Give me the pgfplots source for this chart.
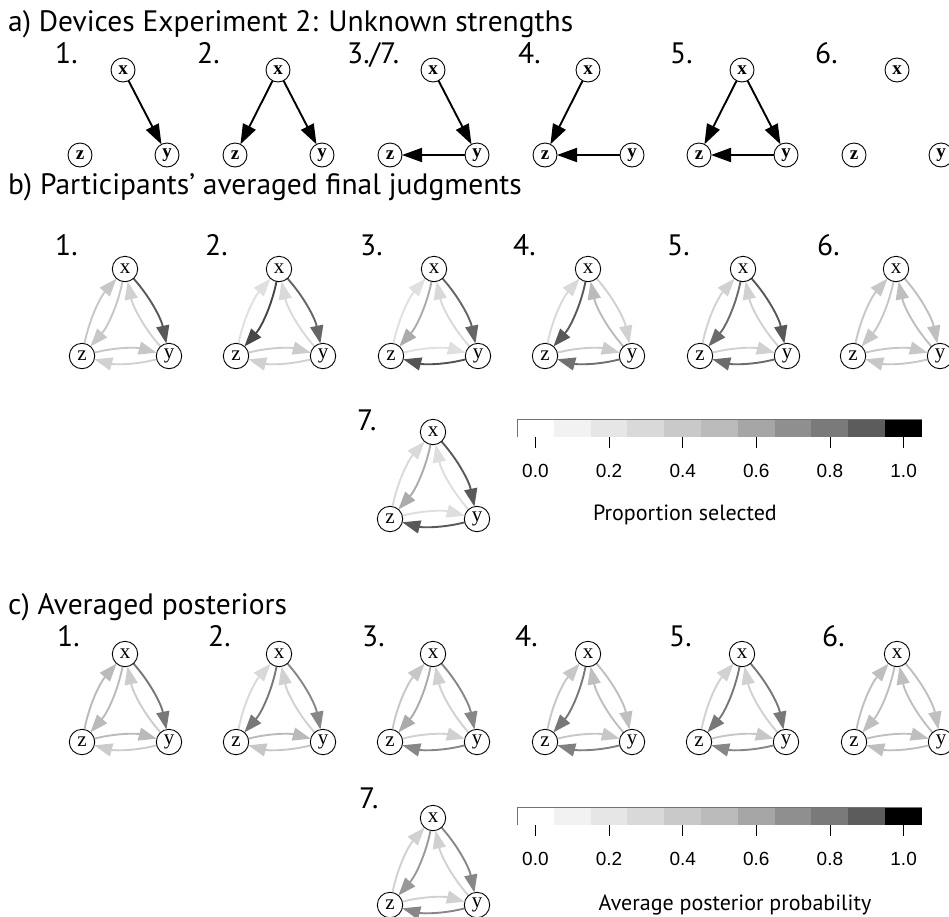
\documentclass[border=0pt]{standalone}
\usepackage{fontspec}
\usepackage{pgfplots}
\pgfplotsset{compat=1.18}
\usetikzlibrary{arrows.meta}
\newfontfamily\headfont{PT Sans}
\newfontfamily\tickfont{Liberation Sans}
\newfontfamily\nodefont{Liberation Serif}

\definecolor{cb0}{HTML}{FFFFFF}
\definecolor{cb1}{HTML}{F2F2F2}
\definecolor{cb2}{HTML}{E6E6E6}
\definecolor{cb3}{HTML}{D9D9D9}
\definecolor{cb4}{HTML}{C9C9C9}
\definecolor{cb5}{HTML}{BABABA}
\definecolor{cb6}{HTML}{A6A6A6}
\definecolor{cb7}{HTML}{8F8F8F}
\definecolor{cb8}{HTML}{7A7A7A}
\definecolor{cb9}{HTML}{5C5C5C}
\definecolor{cb10}{HTML}{000000}

\tikzset{
  redge/.style={line width=1.9pt, -{Triangle[length=18pt,width=13pt]}, shorten <=12.7pt, shorten >=12.7pt},
  aedge/.style={line width=1.9pt, black, -{Triangle[length=20pt,width=14pt]}, shorten <=12pt, shorten >=12pt},
  head/.style={anchor=base west, inner sep=0pt, font=\headfont\fontsize{29.5}{33}\selectfont},
  ticklab/.style={anchor=base, inner sep=0pt, font=\tickfont\fontsize{19}{19}\selectfont},
  keylab/.style={anchor=base, inner sep=0pt, font=\headfont\fontsize{22}{22}\selectfont},
}
\pgfplotsset{
  netnode/.style={only marks, mark=*, mark size=12.7pt,
    mark options={fill=white, draw=black, line width=0.9pt},
    point meta=explicit symbolic, nodes near coords,
    every node near coord/.append style={anchor=center, inner sep=0pt, black,
      font=\nodefont\fontsize{21}{21}\selectfont}},
  anode/.style={only marks, mark=*, mark size=12pt,
    mark options={fill=white, draw=black, line width=0.9pt},
    point meta=explicit symbolic, nodes near coords,
    every node near coord/.append style={anchor=center, inner sep=0pt, black,
      font=\nodefont\bfseries\fontsize{19}{19}\selectfont}},
}

% one network: #1 x of node x, #2 row of x, #3 row of z and y,
% then grey (percent black) of x->y, y->x, x->z, z->x, z->y, y->z
\newcommand{\net}[9]{%
  \pgfmathsetmacro\zx{#1-43}%
  \pgfmathsetmacro\yx{#1+44}%
  \edef\temp{%
    \noexpand\draw[redge, black!#4] (axis cs:#1,#2) to[bend left=15] (axis cs:\yx,#3);
    \noexpand\draw[redge, black!#5] (axis cs:\yx,#3) to[bend left=15] (axis cs:#1,#2);
    \noexpand\draw[redge, black!#6] (axis cs:#1,#2) to[bend left=15] (axis cs:\zx,#3);
    \noexpand\draw[redge, black!#7] (axis cs:\zx,#3) to[bend left=15] (axis cs:#1,#2);
    \noexpand\draw[redge, black!#8] (axis cs:\zx,#3) to[bend left=15] (axis cs:\yx,#3);
    \noexpand\draw[redge, black!#9] (axis cs:\yx,#3) to[bend left=15] (axis cs:\zx,#3);
    \noexpand\addplot[netnode] coordinates {(#1,#2) [x] (\zx,#3) [z] (\yx,#3) [y]};
  }\temp
}

% colour key: #1 top, #2 bottom, #3 tick end, #4 number baseline
\newcommand{\cbar}[4]{%
  \foreach \xa/\xb/\cc in {517/553.8/cb0, 553.8/590.6/cb1, 590.6/627.4/cb2,
      627.4/664.2/cb3, 664.2/701/cb4, 701/737.8/cb5, 737.8/774.6/cb6,
      774.6/811.4/cb7, 811.4/848.2/cb8, 848.2/885/cb9, 885/922/cb10}{%
    \edef\temp{\noexpand\addplot[fill=\cc, draw=none] coordinates
      {(\xa,#1) (\xb,#1) (\xb,#2) (\xa,#2)};}\temp}
  \addplot[black!55, line width=0.5pt] coordinates {(517,#2) (517,#1) (922,#1)};
  \foreach \tx/\tl in {535.4/0.0, 609/0.2, 682.7/0.4, 756.3/0.6, 829.9/0.8, 903.6/1.0}{%
    \edef\temp{\noexpand\addplot[black, line width=0.8pt] coordinates {(\tx,#2) (\tx,#3)};
      \noexpand\node[ticklab] at (axis cs:\tx,#4) {\tl};}\temp}
}

\begin{document}
\begin{tikzpicture}
\begin{axis}[x=1pt, y=1pt, xmin=0, xmax=949, ymin=0, ymax=916,
    y dir=reverse, hide axis, clip=false]

% a) true structures
\node[head] at (axis cs:8,31) {a) Devices Experiment 2: Unknown strengths};
\foreach \lx/\lt in {55/{1.}, 197/{2.}, 347/{3./7.}, 518/{4.}, 670/{5.}, 815/{6.}}{%
  \edef\temp{\noexpand\node[head] at (axis cs:\lx,63) {\lt};}\temp}
\draw[aedge] (axis cs:123,70) -- (axis cs:167,155);
\draw[aedge] (axis cs:278,70) -- (axis cs:235,155);
\draw[aedge] (axis cs:278,70) -- (axis cs:322,155);
\draw[aedge] (axis cs:433,70) -- (axis cs:477,155);
\draw[aedge] (axis cs:477,155) -- (axis cs:390,155);
\draw[aedge] (axis cs:588,70) -- (axis cs:545,155);
\draw[aedge] (axis cs:632,155) -- (axis cs:545,155);
\draw[aedge] (axis cs:742,70) -- (axis cs:699,155);
\draw[aedge] (axis cs:742,70) -- (axis cs:786,155);
\draw[aedge] (axis cs:786,155) -- (axis cs:699,155);
\addplot[anode] coordinates {
  (123,70) [x] (80,155) [z] (167,155) [y]
  (278,70) [x] (235,155) [z] (322,155) [y]
  (433,70) [x] (390,155) [z] (477,155) [y]
  (588,70) [x] (545,155) [z] (632,155) [y]
  (742,70) [x] (699,155) [z] (786,155) [y]
  (897,70) [x] (854,155) [z] (941,155) [y]};

% b) participants
\node[head] at (axis cs:8,194) {b) Participants’ averaged final judgments};
\foreach \lx/\ly/\lt in {55/255/1., 205/255/2., 360/255/3., 513/255/4., 667/255/5., 817/255/6., 357/430/7.}{%
  \edef\temp{\noexpand\node[head] at (axis cs:\lx,\ly) {\lt};}\temp}
\net{125}{269}{356}{65}{18}{22}{22}{22}{18}
\net{279}{269}{356}{60}{15}{72}{12}{20}{18}
\net{434}{269}{356}{60}{15}{33}{12}{12}{67}
\net{588}{269}{356}{18}{27}{65}{15}{20}{56}
\net{743}{269}{356}{65}{18}{58}{18}{18}{58}
\net{896}{269}{356}{25}{25}{22}{22}{22}{22}
\net{433}{432}{519}{65}{13}{33}{15}{13}{65}
\cbar{419}{437}{448}{477}
\node[keylab] at (axis cs:685,520) {Proportion selected};

% c) posteriors
\node[head] at (axis cs:8,614) {c) Averaged posteriors};
\foreach \lx/\ly/\lt in {57/646/1., 208/646/2., 362/646/3., 515/646/4., 669/646/5., 822/646/6., 359/808/7.}{%
  \edef\temp{\noexpand\node[head] at (axis cs:\lx,\ly) {\lt};}\temp}
\net{125}{654}{742}{53}{20}{27}{27}{27}{20}
\net{279}{654}{742}{47}{18}{53}{15}{27}{22}
\net{433}{654}{742}{47}{18}{33}{22}{18}{47}
\net{588}{654}{742}{25}{25}{53}{22}{22}{50}
\net{742}{654}{742}{53}{18}{53}{18}{22}{47}
\net{897}{654}{742}{25}{25}{25}{25}{25}{25}
\net{433}{818}{905}{47}{18}{40}{18}{18}{47}
\cbar{807}{825}{836}{865}
\node[keylab] at (axis cs:735,910) {Average posterior probability};

\end{axis}
\pgfresetboundingbox
\path[use as bounding box] (current axis.south west) rectangle (current axis.north east);
\end{tikzpicture}
\end{document}
